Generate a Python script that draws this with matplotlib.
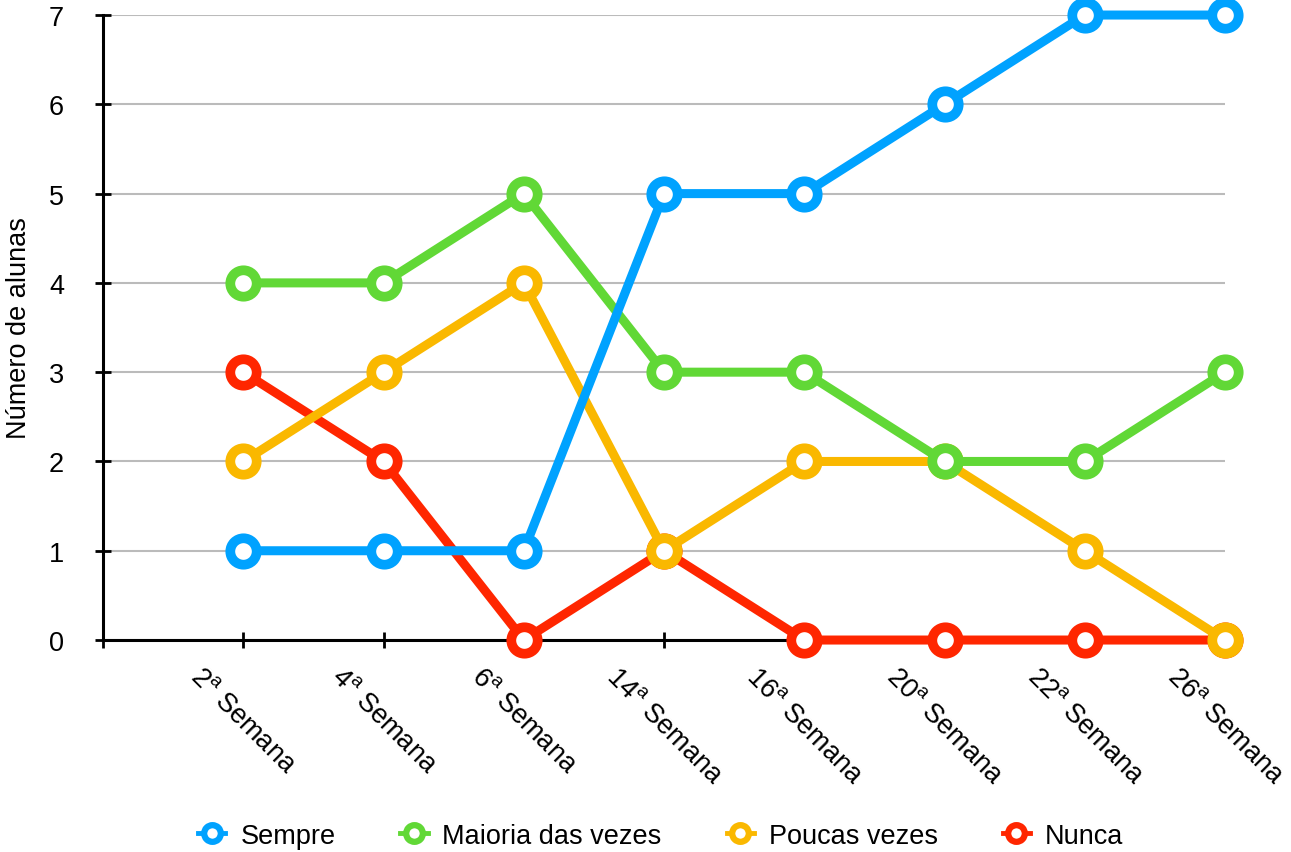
import matplotlib
matplotlib.use("Agg")
import matplotlib.pyplot as plt
from matplotlib.lines import Line2D

plt.rcParams['font.family'] = ['Liberation Sans', 'DejaVu Sans']

categories = ["2$^{\\mathregular{a}}$ Semana", "4$^{\\mathregular{a}}$ Semana", "6$^{\\mathregular{a}}$ Semana",
              "14$^{\\mathregular{a}}$ Semana", "16$^{\\mathregular{a}}$ Semana", "20$^{\\mathregular{a}}$ Semana",
              "22$^{\\mathregular{a}}$ Semana", "26$^{\\mathregular{a}}$ Semana"]
series_names = ["Sempre", "Maioria das vezes", "Poucas vezes", "Nunca"]
sempre = [1, 1, 1, 5, 5, 6, 7, 7]
maioria = [4, 4, 5, 3, 3, 2, 2, 3]
poucas = [2, 3, 4, 1, 2, 2, 1, 0]
nunca = [3, 2, 0, 1, 0, 0, 0, 0]
colors = ["#00A2FF", "#61D836", "#FAB800", "#FF2600"]

FS = 19.5

fig = plt.figure(figsize=(12.91, 8.53), dpi=100)
ax = fig.add_axes([0.0798, 0.2485, 0.9489 - 0.0798, 0.9812 - 0.2485])

x = list(range(len(categories)))
all_series = [sempre, maioria, poucas, nunca]
for i, (name, vals, c) in enumerate(zip(series_names, all_series, colors)):
    ax.plot(x, vals, color=c, lw=6.5, marker='o', ms=19, mew=7, mfc='white', mec=c,
            label=name, zorder=10 - i, clip_on=False, solid_capstyle='butt')

ax.set_xlim(-1, 7)
ax.set_ylim(0, 7)
ax.set_xticks(range(-1, 8))
ax.set_xticklabels([""] + categories, rotation=-45, ha='center', va='top', fontsize=FS)
ax.set_yticks(range(0, 8))
ax.set_yticklabels([str(v) for v in range(0, 8)], fontsize=FS)
ax.tick_params(axis='both', direction='inout', length=12, width=2, color='black')
ax.tick_params(axis='y', pad=22)
ax.tick_params(axis='x', pad=10)

ax.grid(axis='y', color='#BBBBBB', lw=1.5, zorder=0)
ax.set_axisbelow(True)
for s in ['top', 'right']:
    ax.spines[s].set_visible(False)
for s in ['left', 'bottom']:
    ax.spines[s].set_linewidth(2.2)
    ax.spines[s].set_zorder(1)

ax.set_ylabel("Número de alunas", fontsize=FS, labelpad=12)

leg_handles = [Line2D([0], [0], color=c, lw=3.5, marker='o', ms=12, mew=4.5, mfc='white', mec=c)
               for c in colors]
ax.legend(leg_handles, series_names, loc='center', bbox_to_anchor=(0.497, -0.313), ncol=4,
          frameon=False, fontsize=FS, handlelength=1.0, handletextpad=0.55, columnspacing=2.4)

fig.savefig("out.png", dpi=100)
